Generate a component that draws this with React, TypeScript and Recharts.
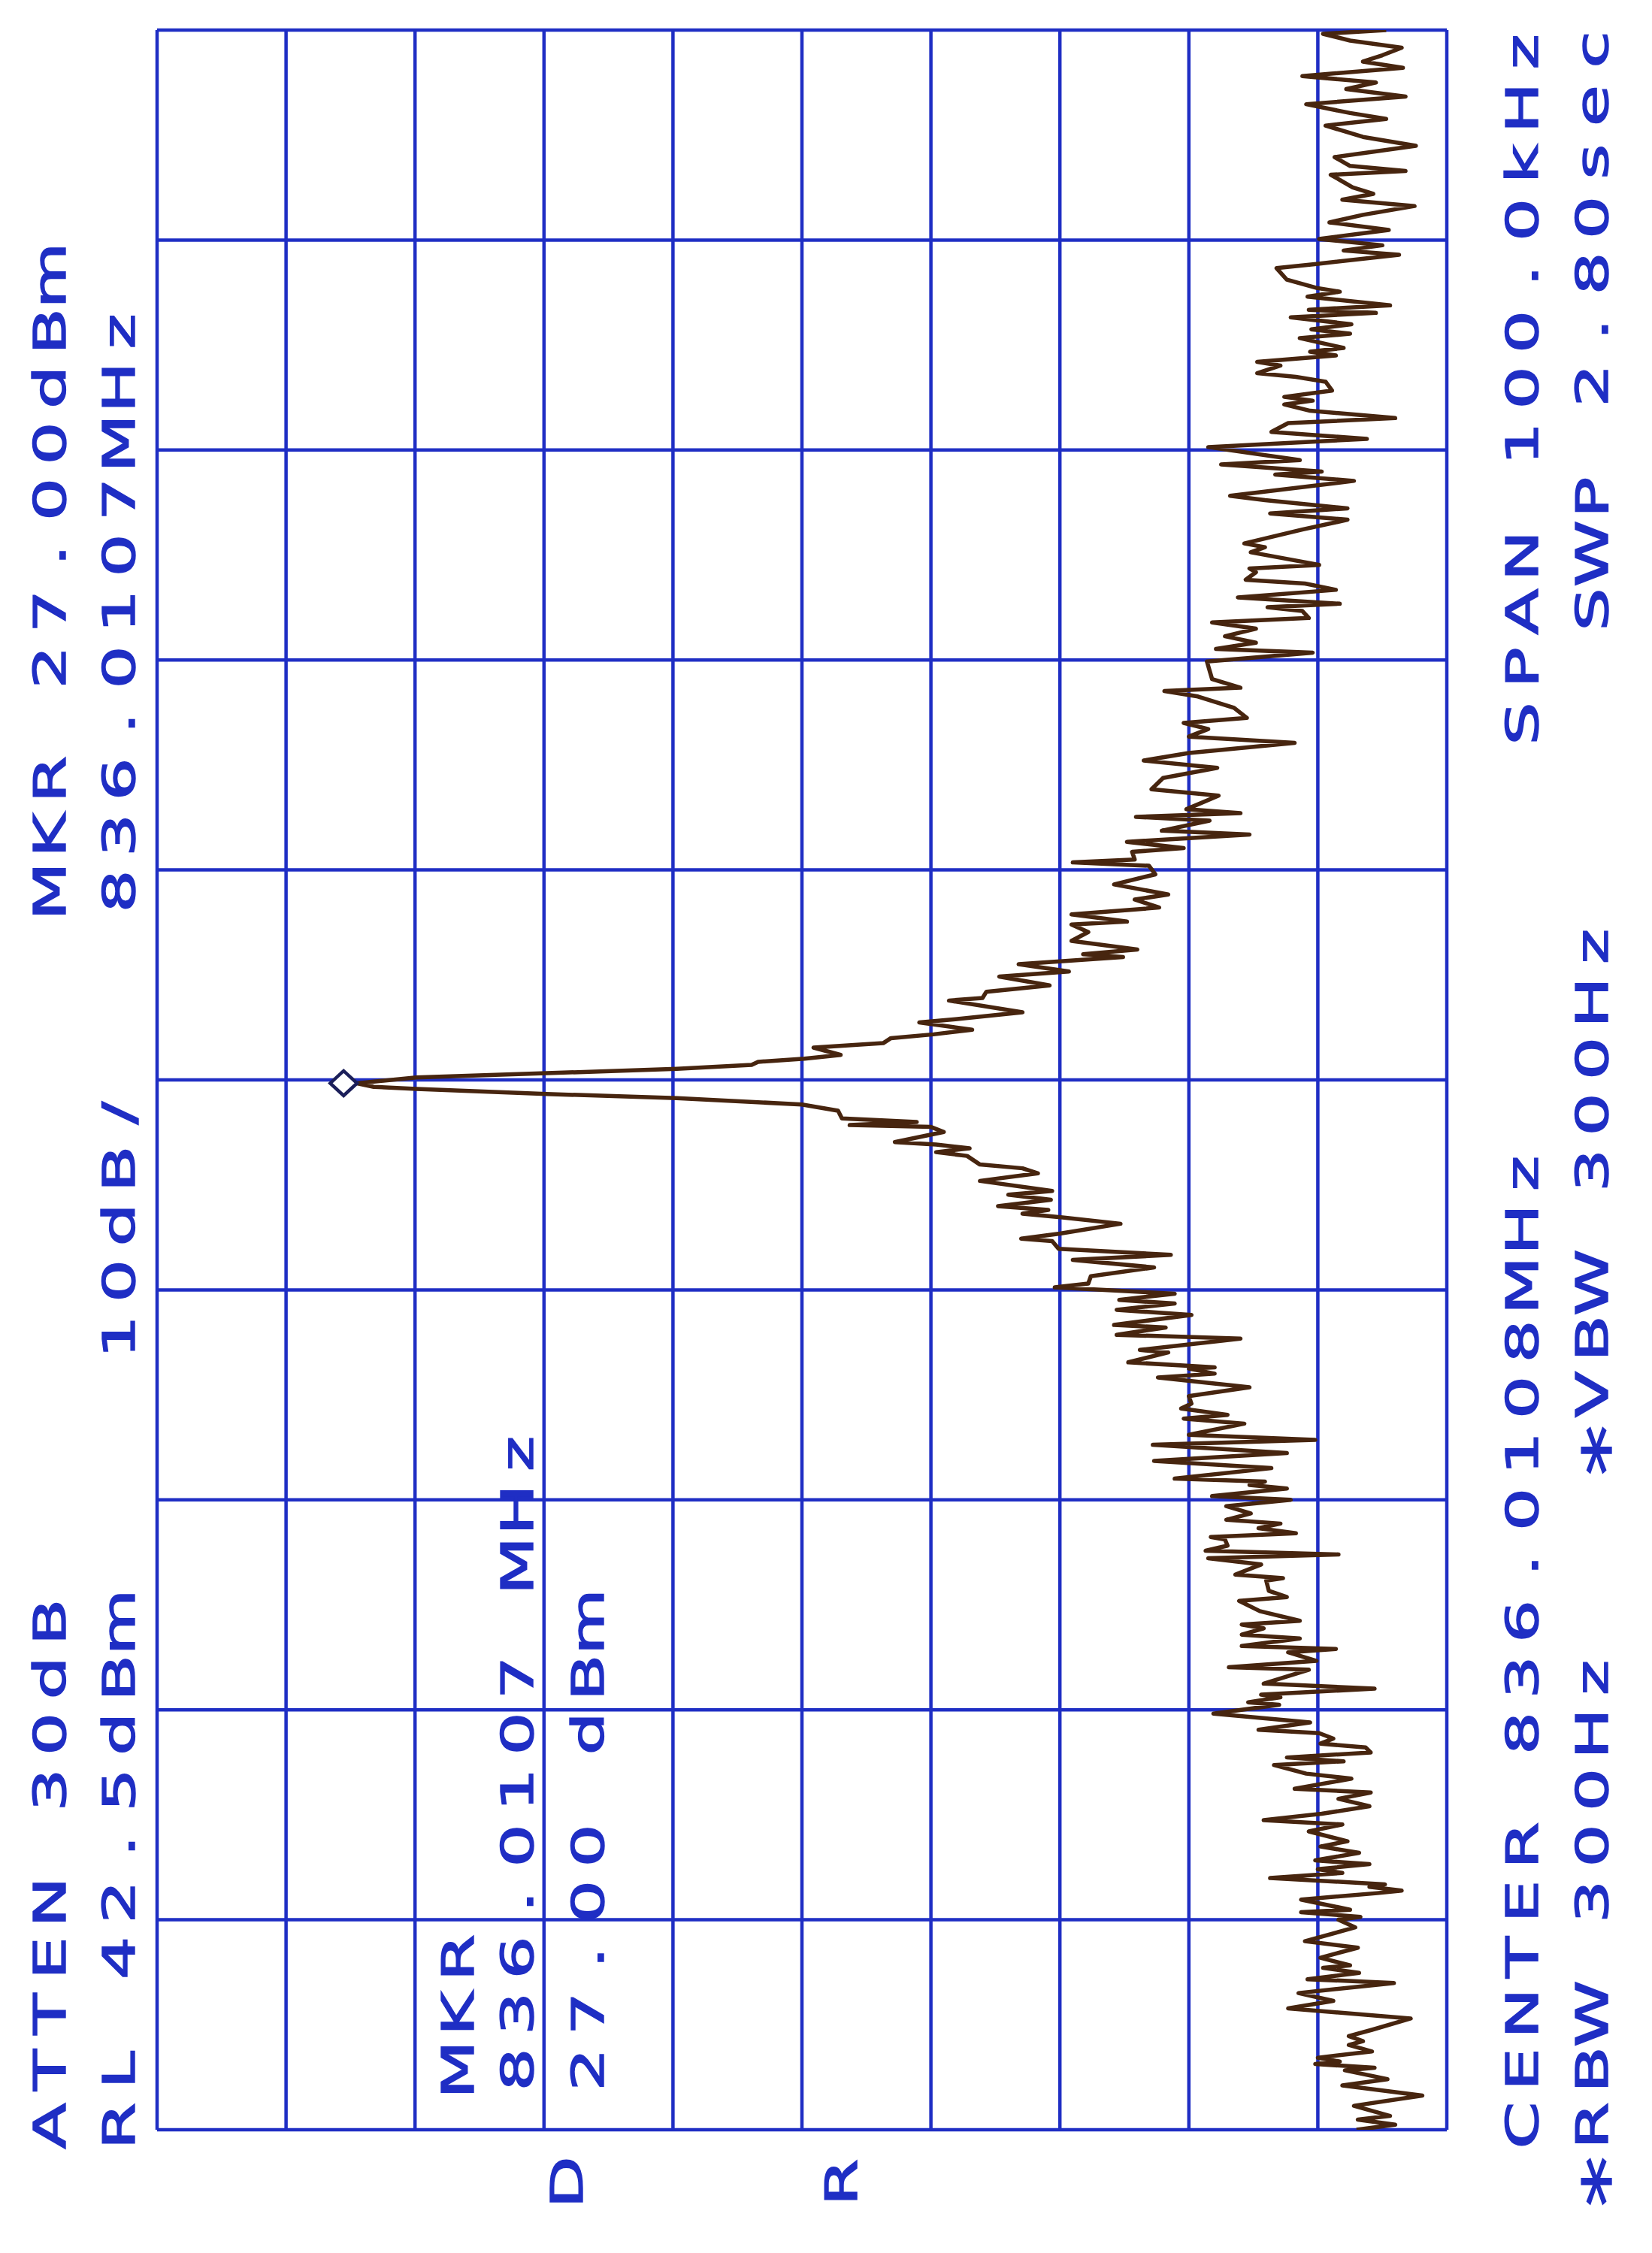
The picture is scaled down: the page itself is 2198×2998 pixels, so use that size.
import React from 'react';
import { LineChart, Line, XAxis, YAxis, CartesianGrid, ReferenceDot } from 'recharts';

// Trace: offset from centre (kHz) and level (dBm)
const traceKHz = [
  -50.0, -49.76, -49.52, -49.34, -48.86, -48.37, -47.89, -47.59, -47.17, -47.05,
  -46.87, -46.75, -46.57, -46.27, -45.96, -45.78, -45.54, -45.24, -44.7, -44.22,
  -43.86, -43.49, -43.01, -42.83, -42.53, -42.29, -42.17, -41.81, -41.33, -41.02,
  -40.36, -40.0, -39.86, -39.64, -39.52, -39.04, -38.73, -38.61, -38.43, -38.31,
  -38.01, -37.77, -37.59, -37.35, -37.17, -36.81, -36.51,
  -36.26, -35.79, -35.46, -35.25, -34.95, -34.59, -34.24, -33.94, -33.76, -33.28,
  -33.04, -32.63, -32.45, -32.27, -32.03, -31.79, -31.61, -31.37, -31.11, -30.95,
  -30.6, -30.18, -29.76, -29.64, -29.4, -29.28, -28.99, -28.75, -28.09, -27.97,
  -27.67, -27.26, -27.1, -26.96, -26.6, -26.42, -26.12, -25.94, -25.76, -25.3,
  -24.81, -24.63, -24.33, -23.85, -23.73, -23.56, -23.08, -22.78, -22.6, -22.42,
  -22.18, -21.89, -21.77, -21.59, -21.35,
  -21.13, -20.95, -20.65, -20.3, -20.0, -19.82, -19.46, -19.29, -19.13, -18.99,
  -18.49, -18.15, -17.77, -17.38, -17.14, -16.9, -16.37, -16.13, -15.95, -15.65,
  -15.42, -15.06, -14.64, -14.17, -13.99, -13.75, -13.69, -13.45, -12.98, -12.86,
  -12.32, -12.14, -11.79, -11.67, -11.19, -10.95, -10.65, -10.48, -10.18, -9.88,
  -9.7, -9.35, -8.93, -8.57, -8.33, -8.04, -7.68, -7.56, -7.32, -6.85,
  -6.55, -6.37, -6.19, -6.01, -5.71,
  -5.47, -5.29, -4.81, -4.45, -4.21, -4.03, -3.62, -3.44, -3.26, -3.08,
  -2.96, -2.48, -2.24, -2.15, -2.0, -1.83, -1.47, -1.29, -1.17, -0.87,
  -0.67, -0.43, -0.33, -0.16, 0.12, 0.32, 0.53, 0.72, 0.86, 1.01,
  1.19, 1.54, 1.75, 1.99, 2.17, 2.39, 2.74, 2.89, 3.22, 3.78,
  3.9, 4.2, 4.5, 4.92, 5.16, 5.51,
  5.85, 5.99, 6.21, 6.62, 7.04, 7.4, 7.54, 7.88, 8.21, 8.59,
  8.83, 9.31, 9.79, 10.2, 10.36, 10.5, 10.86, 11.04, 11.34, 11.69,
  11.87, 12.35, 12.53, 12.71, 12.89, 13.54, 13.84, 14.38, 14.86, 15.21,
  15.57, 16.05, 16.35, 16.71, 17.0, 17.24, 17.72, 18.26, 18.52, 18.68,
  19.09, 19.93, 20.35, 20.53, 20.82,
  21.13, 21.49, 21.79, 22.0, 22.33, 22.51, 22.68, 22.98, 23.34, 23.64,
  23.82, 24.18, 24.36, 24.53, 25.13, 25.37, 25.55, 26.21, 26.68, 26.98,
  27.22, 27.61, 27.82, 28.53, 28.83, 28.97, 29.31, 29.52, 30.14, 30.53,
  30.86, 31.28, 31.52, 31.87, 32.17, 32.35, 32.53, 32.83, 33.25, 33.48,
  33.66, 34.02, 34.2, 34.5, 34.68, 34.86, 35.33, 35.54, 35.75, 35.99,
  36.32, 36.53, 36.68, 36.89, 37.3, 37.54,
  37.72, 38.11, 38.66, 38.86, 39.3, 39.5, 39.75, 40.05, 40.48, 40.84,
  41.2, 41.62, 41.92, 42.2, 42.51, 43.11, 43.29, 43.53, 43.95, 44.49,
  44.91, 45.45, 45.77, 46.05, 46.47, 46.83, 47.19, 47.5, 47.81, 48.2,
  48.5, 48.8, 49.16, 49.5, 49.82, 50.0,
];

const traceDbm = [
  -50.5, -53.5, -50.6, -53.1, -50.3, -55.6, -49.4, -52.9, -49.6, -51.9,
  -47.3, -49.2, -47.5, -51.7, -49.9, -51.0, -49.9, -51.7, -54.7, -45.2,
  -48.7, -46.0, -53.4, -46.7, -50.7, -47.9, -50.0, -47.7, -50.6, -46.5,
  -50.4, -49.1, -50.8, -46.2, -50.0, -46.2, -52.1, -54.0, -51.5, -52.7,
  -43.8, -49.4, -47.5, -51.5, -47.3, -50.7, -47.7,
  -49.8, -46.8, -49.4, -43.3, -47.8, -51.5, -49.1, -51.6, -45.7, -50.1,
  -46.6, -44.1, -49.5, -45.1, -51.6, -51.2, -47.7, -48.7, -47.6, -42.9,
  -46.9, -39.4, -44.5, -42.1, -44.6, -43.1, -51.9, -43.3, -46.8, -40.6,
  -47.4, -45.2, -48.9, -41.6, -46.1, -41.6, -43.3, -41.6, -46.1, -43.0,
  -41.4, -45.1, -43.7, -43.5, -44.8, -41.1, -43.1, -39.0, -49.1, -38.8,
  -40.5, -40.3, -39.2, -45.8, -42.9,
  -44.6, -40.4, -42.3, -40.4, -45.4, -39.3, -45.1, -42.2, -43.4, -36.4,
  -43.9, -34.8, -45.1, -34.7, -47.3, -37.5, -41.8, -37.1, -40.5, -36.9,
  -37.7, -37.5, -42.2, -35.1, -39.5, -37.5, -39.5, -32.8, -35.9, -33.7,
  -41.5, -31.9, -35.7, -31.7, -37.7, -31.9, -36.4, -32.1, -36.4, -27.1,
  -29.7, -29.9, -34.8, -28.5, -36.1, -27.4, -26.9, -24.5, -27.5, -32.2,
  -27.7, -24.6, -26.6, -22.7, -26.8,
  -23.5, -26.9, -21.3, -25.8, -24.6, -21.3, -20.3, -17.9, -20.5, -17.9,
  -14.7, -18.5, -17.5, -11.2, -16.4, -10.6, -10.3, -8.6, -7.5, 2.2,
  12.3, 22.4, 25.7, 27.0, 22.4, 12.3, 2.2, -3.6, -4.1, -7.7,
  -10.5, -8.4, -13.8, -14.4, -17.7, -20.7, -16.6, -19.4, -24.6, -18.9,
  -21.5, -21.8, -26.7, -22.8, -28.2, -24.3,
  -32.4, -29.3, -33.5, -28.4, -29.7, -28.4, -32.7, -28.4, -35.2, -33.3,
  -35.9, -31.7, -34.9, -34.4, -28.5, -33.3, -33.1, -37.1, -32.7, -42.2,
  -35.4, -39.1, -33.4, -41.5, -37.3, -39.8, -34.6, -35.5, -39.7, -34.0,
  -37.5, -45.7, -37.5, -39.0, -37.1, -42.0, -41.0, -38.2, -35.6, -41.5,
  -39.3, -38.9, -47.1, -39.6, -42.7,
  -40.3, -42.7, -39.3, -46.8, -46.3, -43.6, -49.2, -41.3, -48.9, -46.5,
  -41.9, -42.7, -42.2, -47.6, -42.3, -43.4, -41.8, -46.3, -49.8, -43.8,
  -49.8, -43.4, -40.7, -50.3, -44.2, -47.8, -40.0, -46.1, -39.0, -51.3,
  -43.9, -45.2, -53.5, -46.9, -44.9, -47.1, -44.9, -48.6, -48.1, -45.8,
  -42.8, -44.6, -42.8, -48.9, -46.9, -49.5, -46.1, -50.0, -47.0, -50.1,
  -45.4, -52.0, -46.8, -53.1, -46.7, -49.2,
  -47.4, -45.1, -44.3, -47.4, -53.8, -49.5, -52.5, -47.6, -53.0, -48.4,
  -51.0, -55.0, -49.4, -51.8, -50.2, -48.5, -54.3, -50.0, -48.8, -55.1,
  -51.0, -48.1, -52.8, -50.0, -46.6, -54.3, -49.7, -52.0, -46.3, -54.1,
  -51.0, -52.5, -54.0, -50.0, -47.9, -52.8,
];

const freqTicks = [-50, -40, -30, -20, -10, 0, 10, 20, 30, 40, 50];
const levelTicks = [-57.5, -47.5, -37.5, -27.5, -17.5, -7.5, 2.5, 12.5, 22.5, 32.5, 42.5];

const markerKHz = -0.16;
const markerDbm = 27.0;

const labels = [
  { text: 'ATTEN 30dB', x: 142, y: 87 },
  { text: 'RL 42.5dBm', x: 142, y: 179 },
  { text: '10dB/', x: 1192, y: 179 },
  { text: 'MKR 27.00dBm', x: 1785, y: 87 },
  { text: '836.0107MHz', x: 1785, y: 179 },
  { text: 'MKR', x: 217, y: 630 },
  { text: '836.0107 MHz', x: 217, y: 709 },
  { text: '27.00 dBm', x: 217, y: 803 },
  { text: 'D', x: 67, y: 775 },
  { text: 'R', x: 67, y: 1140 },
  { text: 'CENTER 836.0108MHz', x: 143, y: 2046 },
  { text: '*RBW 300Hz', x: 68, y: 2139 },
  { text: '*VBW 300Hz', x: 1041, y: 2139 },
  { text: 'SPAN 100.0kHz', x: 2008, y: 2046 },
  { text: 'SWP 2.80sec', x: 2160, y: 2139 },
];

const BLUE = '#1f2ec4';
const TRACE = '#47250f';
const MARKER = '#1b1f5a';

// the plot is drawn in the analyzer's own landscape frame, then turned a quarter turn
const FRAME_W = 2998;
const FRAME_H = 2198;
const PITCH = 74.5;

const data = traceKHz.map((khz, i) => ({ khz, dbm: traceDbm[i] }));

// marker diamond sits just above the point, like the plotter draws it
const Diamond = (props: any) => {
  const { cx, cy } = props;
  if (cx == null || cy == null) return null;
  return (
    <path
      d={`M${cx},${cy} L${cx + 16.5},${cy - 17.8} L${cx},${cy - 35.6} L${cx - 16.5},${cy - 17.8} Z`}
      fill="white"
      stroke={MARKER}
      strokeWidth={4.5}
    />
  );
};

function PlotterText({ text, x, y }: { text: string; x: number; y: number }) {
  return (
    <g>
      {text.split('').map((ch, i) => {
        if (ch === ' ') return null;
        const star = ch === '*';
        return (
          <text
            key={i}
            transform={`translate(${x + i * PITCH + 27},${star ? y + 30 : y}) scale(1.55,1)`}
            textAnchor="middle"
            fontFamily="DejaVu Sans"
            fontSize={star ? 88 : 58}
            fill={BLUE}
            stroke={BLUE}
            strokeWidth={1.4}
          >
            {ch}
          </text>
        );
      })}
    </g>
  );
}

export default function App() {
  return (
    <div
      style={{
        position: 'absolute',
        left: 0,
        top: 0,
        width: 2198,
        height: 2998,
        overflow: 'hidden',
        background: '#ffffff',
      }}
    >
      <div
        style={{
          position: 'absolute',
          left: 0,
          top: 0,
          width: FRAME_W,
          height: FRAME_H,
          transformOrigin: '0 0',
          transform: `translate(0px, ${FRAME_W}px) rotate(-90deg)`,
        }}
      >
        <LineChart
          width={FRAME_W}
          height={FRAME_H}
          data={data}
          margin={{ top: 209, right: 40, bottom: 273, left: 164 }}
        >
          <CartesianGrid
            stroke={BLUE}
            strokeWidth={4.5}
            fill="none"
            horizontalValues={levelTicks}
            verticalValues={freqTicks}
          />
          <XAxis
            dataKey="khz"
            type="number"
            domain={[-50, 50]}
            ticks={freqTicks}
            allowDataOverflow
            hide
          />
          <YAxis type="number" domain={[-57.5, 42.5]} ticks={levelTicks} allowDataOverflow hide />
          <Line
            dataKey="dbm"
            type="linear"
            stroke={TRACE}
            strokeWidth={5.5}
            strokeLinejoin="round"
            dot={false}
            activeDot={false}
            isAnimationActive={false}
          />
          <ReferenceDot x={markerKHz} y={markerDbm} shape={Diamond} />
        </LineChart>
        <svg
          width={FRAME_W}
          height={FRAME_H}
          style={{ position: 'absolute', left: 0, top: 0, pointerEvents: 'none' }}
        >
          {labels.map((l) => (
            <PlotterText key={l.text + l.y} text={l.text} x={l.x} y={l.y} />
          ))}
        </svg>
      </div>
    </div>
  );
}
